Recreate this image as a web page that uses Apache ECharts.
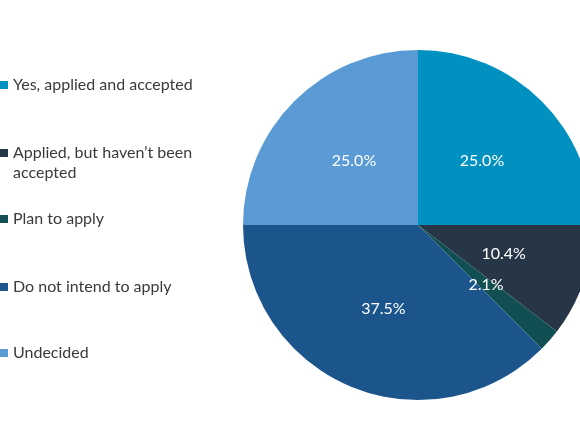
<!DOCTYPE html>
<html>
<head>
<meta charset="utf-8">
<title>Application status</title>
<script src="https://cdn.jsdelivr.net/npm/echarts@6/dist/echarts.min.js"></script>
<style>
  html, body { margin: 0; padding: 0; background: #fff; }
  #chart { width: 580px; height: 435px; }
</style>
</head>
<body>
<div id="chart"></div>
<script>
// Data
const categories = [
    'Yes, applied and accepted',
    'Applied, but haven\u2019t been\naccepted',
    'Plan to apply',
    'Do not intend to apply',
    'Undecided'
];
const counts = [12, 5, 1, 18, 12];
const colors = ['#0091C1', '#263646', '#124F53', '#1B558C', '#5B9BD5'];

// Legend rows (top of each entry)
const legendTops = [75, 143, 209, 277, 343];

const chart = echarts.init(document.getElementById('chart'));

const total = counts.reduce((a, b) => a + b, 0);

// One legend per entry so rows can sit at their own heights
const legends = categories.map(function (name, i) {
    const twoLine = name.indexOf('\n') >= 0;
    return {
        orient: 'vertical',
        left: 0,
        top: legendTops[i],
        padding: 0,
        selectedMode: false,
        data: [name],
        itemWidth: 8,
        itemHeight: twoLine ? 28 : 8,
        // marker lines up with the first text line
        icon: twoLine ? 'path://M0,0h8v8h-8zM0,28' : 'rect',
        itemGap: 0,
        textStyle: {
            fontFamily: 'Lato',
            fontSize: 16,
            lineHeight: 20,
            color: '#3a3a3a'
        }
    };
});

const option = {
    animation: false,
    color: colors,
    legend: legends,
    series: [{
        type: 'pie',
        center: [418, 225],
        radius: 175,
        startAngle: 90,
        clockwise: true,
        data: categories.map((name, i) => ({ name: name, value: counts[i] })),
        itemStyle: { borderWidth: 0 },
        label: {
            position: 'inside',
            color: '#fff',
            fontFamily: 'Lato',
            fontSize: 16,
            formatter: function (p) {
                return (p.value / total * 100).toFixed(1) + '%';
            }
        },
        labelLine: { show: false },
        emphasis: { disabled: true }
    }]
};

chart.setOption(option);
</script>
</body>
</html>
